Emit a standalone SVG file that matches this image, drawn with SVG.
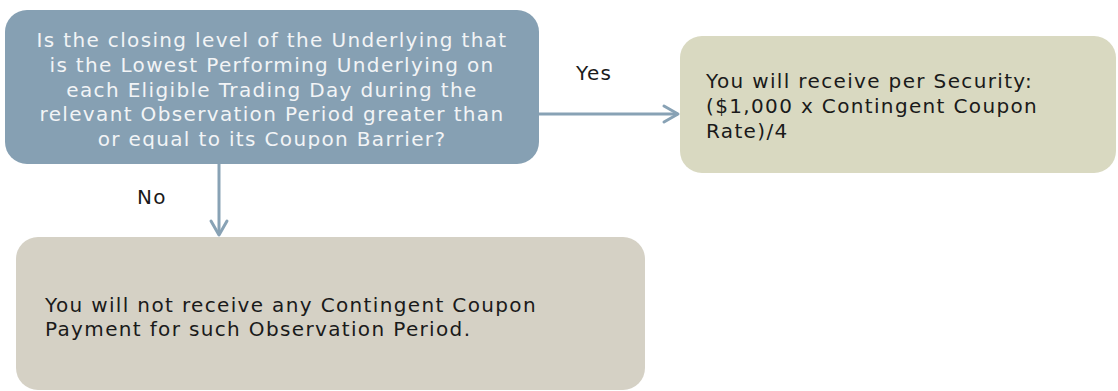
<svg xmlns="http://www.w3.org/2000/svg" width="1118" height="391" viewBox="0 0 1118 391">
<defs>
  <clipPath id="qclip">
    <rect x="5" y="10" width="534" height="139"/>
  </clipPath>
</defs>
<style>
  .t { font-family: "DejaVu Sans", Verdana, sans-serif; font-size: 20px; letter-spacing: 1.35px; }
  .q { fill: #f2f4f6; text-anchor: middle; }
  .d { fill: #1a1a1a; }
  .lbl { font-family: "DejaVu Sans", Verdana, sans-serif; font-size: 20px; fill: #1a1a1a; letter-spacing: 1.35px; }
  .conn { stroke: #88a2b5; stroke-width: 3; fill: none; }
  .head { stroke: #88a2b5; stroke-width: 3; fill: none; stroke-linecap: round; stroke-linejoin: round; }
</style>
<rect width="1118" height="391" fill="#ffffff"/>
<g id="question">
  <rect x="5" y="10" width="534" height="154" rx="22" fill="#86a0b3"/>
  <g clip-path="url(#qclip)">
    <text class="t q" x="272" y="47">Is the closing level of the Underlying that</text>
    <text class="t q" x="272" y="72">is the Lowest Performing Underlying on</text>
    <text class="t q" x="272" y="96.5">each Eligible Trading Day during the</text>
    <text class="t q" x="272" y="121">relevant Observation Period greater than</text>
    <text class="t q" x="272" y="146">or equal to its Coupon Barrier?</text>
  </g>
</g>
<g id="yes-result">
  <rect x="680" y="36" width="436" height="137" rx="22" fill="#d9d9c1"/>
  <text class="t d" x="706" y="88">You will receive per Security:</text>
  <text class="t d" x="706" y="113">($1,000 x Contingent Coupon</text>
  <text class="t d" x="706" y="138">Rate)/4</text>
</g>
<g id="no-result">
  <rect x="16" y="237" width="629" height="153" rx="22" fill="#d5d1c5"/>
  <text class="t d" x="45" y="312">You will not receive any Contingent Coupon</text>
  <text class="t d" x="45" y="336">Payment for such Observation Period.</text>
</g>
<g id="connectors">
  <line class="conn" x1="539" y1="114" x2="678" y2="114"/>
  <polyline class="head" points="664,106 678,114 664,122"/>
  <text class="lbl" x="576" y="80">Yes</text>
  <line class="conn" x1="219" y1="164" x2="219" y2="234"/>
  <polyline class="head" points="211,221 219,235 227,221"/>
  <text class="lbl" x="137" y="204">No</text>
</g>
</svg>
